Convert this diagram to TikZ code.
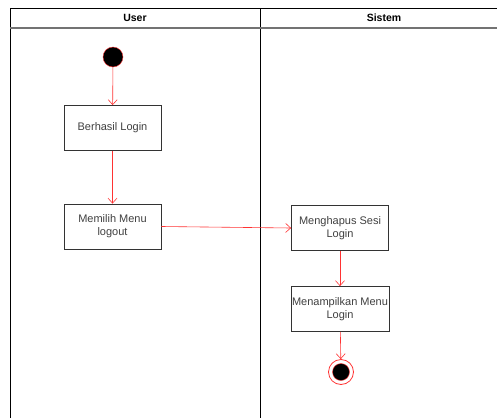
\documentclass[tikz,border=0pt]{standalone}
\usepackage{fontspec}
\setmainfont{Liberation Sans}
\usetikzlibrary{arrows.meta,positioning}

\definecolor{flowred}{HTML}{FF3333}
\definecolor{boxgray}{HTML}{333333}

\begin{document}
\begin{tikzpicture}[x=1pt,y=-1pt,
  activity/.style={draw=boxgray,line width=0.8pt,fill=white,minimum width=97pt,minimum height=45pt,
    align=center,inner sep=1pt,font=\fontsize{11}{13}\selectfont,text=black!75},
  flow/.style={draw=flowred,line width=0.6pt,-{Straight Barb[length=5pt,width=9pt]}},
  lane/.style={draw=black,line width=0.8pt},
  lanehead/.style={font=\bfseries\fontsize{10.5}{12}\selectfont}]

  \useasboundingbox (0,0) rectangle (498,418);

  % swimlanes
  \draw[lane] (10,418) -- (10,8) -- (497,8);
  \draw[lane] (260,8) -- (260,418);
  \draw[draw=black!55,line width=1.2pt] (10,28) -- (497,28);
  \node[lanehead] (user) at (135,18) {User};
  \node[lanehead] (sistem) at (384,18) {Sistem};

  % user lane
  \node[circle,fill=black,draw=flowred,minimum size=20pt,inner sep=0pt] (start) at (113,57) {};
  \node[activity] (login) at (112.5,128) {Berhasil Login};
  \node[activity] (pilih) at (112.5,226.5) {Memilih Menu\\logout};

  % sistem lane
  \node[activity] (hapus) at (340,228) {Menghapus Sesi\\Login};
  \node[activity] (tampil) at (340,309) {Menampilkan Menu\\Login};
  \node[circle,draw=flowred,line width=0.8pt,minimum size=25pt,inner sep=0pt] (stop) at (341,372) {};
  \node[circle,fill=black,draw=flowred,minimum size=17pt,inner sep=0pt] at (stop) {};

  \draw[flow] (start) -- (login);
  \draw[flow] (login) -- (pilih);
  \draw[flow] (pilih.east) -- (hapus.west);
  \draw[flow] (hapus) -- (tampil);
  \draw[flow] (tampil) -- (stop);
\end{tikzpicture}
\end{document}
